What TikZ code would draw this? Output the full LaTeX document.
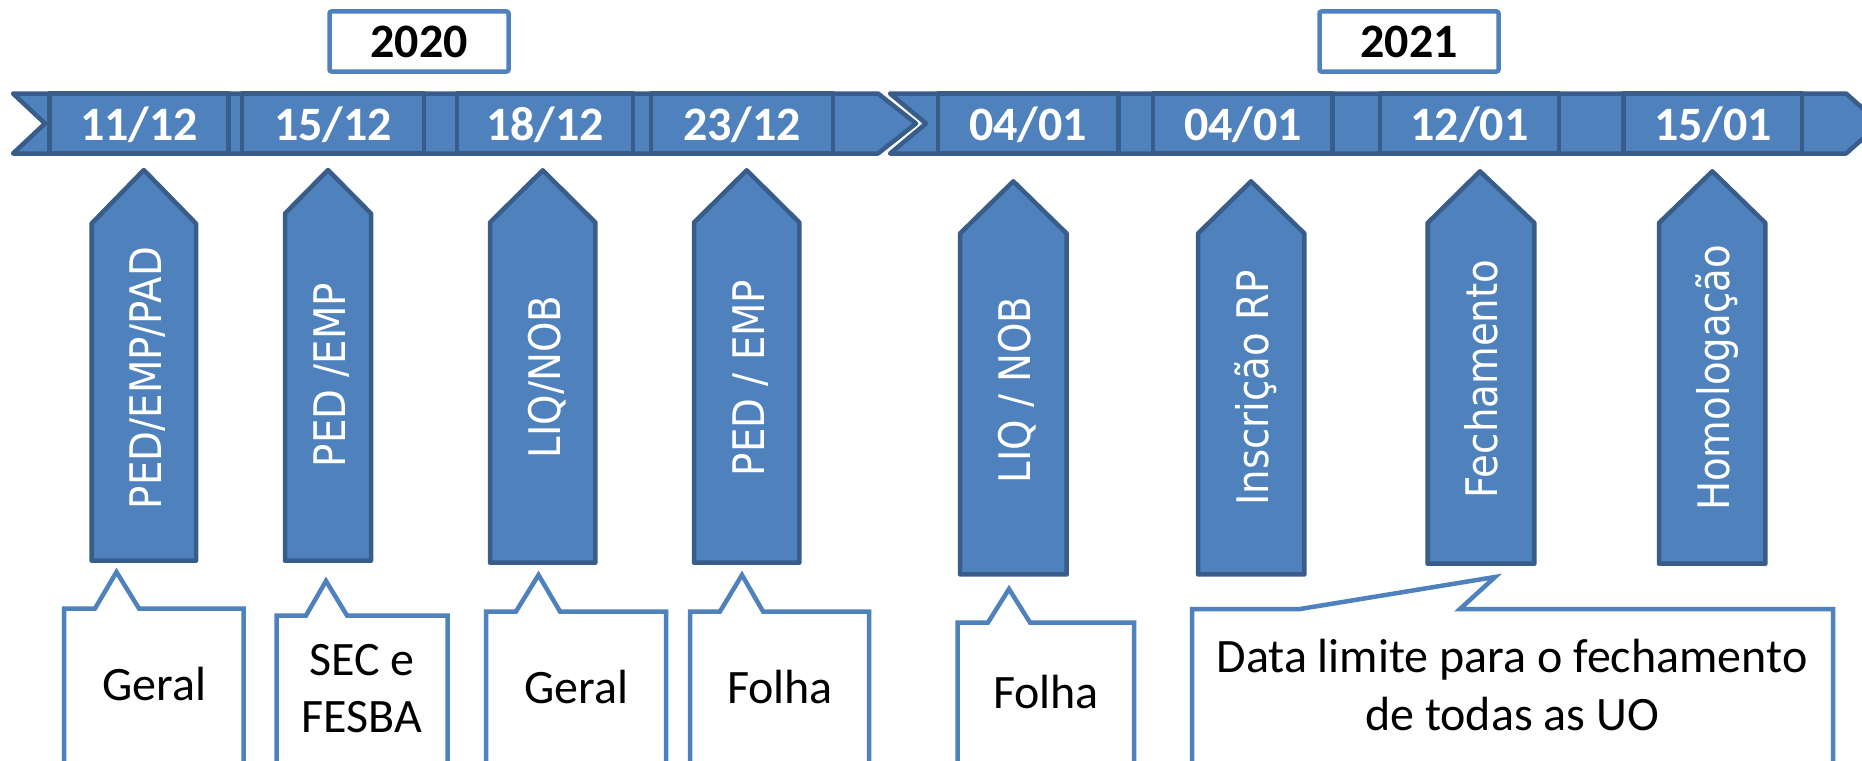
\documentclass[tikz,border=0pt]{standalone}
\usepackage{fontspec}
\setmainfont{Carlito}
\newfontfamily\vfont[FakeStretch=0.89]{DejaVu Sans}
\definecolor{fillblue}{HTML}{4F81BD}
\definecolor{darkblue}{HTML}{385D8A}
\begin{document}
\begin{tikzpicture}[x=1pt,y=-1pt,
  band/.style={fill=fillblue,draw=darkblue,line width=4.5pt,line join=round},
  datebox/.style={fill=fillblue,draw=darkblue,line width=4.5pt,line join=round},
  yearbox/.style={fill=white,draw=fillblue,line width=4.5pt,rounded corners=2pt},
  upshape/.style={fill=fillblue,draw=darkblue,line width=4.5pt,line join=round},
  callout/.style={fill=white,draw=fillblue,line width=4.5pt,line join=miter},
  datetext/.style={anchor=base,inner sep=0pt,text=white,font=\bfseries\fontsize{48}{56}\selectfont},
  yeartext/.style={anchor=base,inner sep=0pt,text=black,font=\bfseries\fontsize{48}{56}\selectfont},
  vtext/.style={anchor=base,inner sep=0pt,rotate=90,text=white,font=\vfont\fontsize{43.5}{50}\selectfont},
  ctext/.style={anchor=base,inner sep=0pt,text=black,font=\fontsize{48}{57}\selectfont}]
\useasboundingbox (0,0) rectangle (1862,760);
\clip (0,0) rectangle (1862,760);
\fill[white] (0,0) rectangle (1862,760);

% year boxes
\draw[yearbox] (329.5,11.5) rectangle (508.5,71.5);
\draw[yearbox] (1319.5,11.5) rectangle (1498.5,71.5);
\node[yeartext] (y2020) at (419,58) {2020};
\node[yeartext] (y2021) at (1409,58) {2021};

% timeline bands
\draw[band] (13,93.5) -- (45,123.5) -- (13,153.5) -- (878,153.5) -- (916,123.5) -- (878,93.5) -- cycle;
\draw[band] (890,93.5) -- (926,123.5) -- (890,153.5) -- (1846,153.5) -- (1880,123.5) -- (1846,93.5) -- cycle;

% date boxes
\draw[datebox] (49.7,93.5) rectangle (228.5,153.5);
\draw[datebox] (242,93.5) rectangle (424,153.5);
\draw[datebox] (457,93.5) rectangle (633,153.5);
\draw[datebox] (651,93.5) rectangle (833,153.5);
\draw[datebox] (938,93.5) rectangle (1118.5,153.5);
\draw[datebox] (1153,93.5) rectangle (1332.5,153.5);
\draw[datebox] (1380,93.5) rectangle (1559,153.5);
\draw[datebox] (1623.7,93.5) rectangle (1802,153.5);

\node[datetext] (d1) at (139,140) {11/12};
\node[datetext] (d2) at (333,140) {15/12};
\node[datetext] (d3) at (545,140) {18/12};
\node[datetext] (d4) at (742,140) {23/12};
\node[datetext] (d5) at (1028,140) {04/01};
\node[datetext] (d6) at (1243,140) {04/01};
\node[datetext] (d7) at (1469.5,140) {12/01};
\node[datetext] (d8) at (1713,140) {15/01};

% upward arrows
\draw[upshape] (91.6,560.7) -- (91.6,223.5) -- (143.8,170) -- (196,223.5) -- (196,560.7) -- cycle;
\draw[upshape] (285,560.7) -- (285,213.5) -- (328,170) -- (371,213.5) -- (371,560.7) -- cycle;
\draw[upshape] (490,562.7) -- (490,222.5) -- (542.7,170.3) -- (595.4,222.5) -- (595.4,562.7) -- cycle;
\draw[upshape] (694,562.7) -- (694,222.5) -- (746.7,170.3) -- (799.4,222.5) -- (799.4,562.7) -- cycle;
\draw[upshape] (960,574.4) -- (960,233.5) -- (1013.3,181.3) -- (1066.7,233.5) -- (1066.7,574.4) -- cycle;
\draw[upshape] (1198,574.4) -- (1198,233.5) -- (1251,181.3) -- (1304.4,233.5) -- (1304.4,574.4) -- cycle;
\draw[upshape] (1427.6,563.7) -- (1427.6,223) -- (1480,171.3) -- (1534.4,223) -- (1534.4,563.7) -- cycle;
\draw[upshape] (1659,563.7) -- (1659,223) -- (1712.3,171.3) -- (1765.4,223) -- (1765.4,563.7) -- cycle;

\node[vtext] (v1) at (161.1,378) {PED/EMP/PAD};
\node[vtext] (v2) at (345.3,375) {PED /EMP};
\node[vtext] (v3) at (560,377) {LIQ/NOB};
\node[vtext] (v4) at (764,378) {PED / EMP};
\node[vtext] (v5) at (1030.6,390) {LIQ / NOB};
\node[vtext] (v6) at (1268.3,388) {Inscrição RP};
\node[vtext] (v7) at (1497.5,379) {Fechamento};
\node[vtext] (v8) at (1729.6,378) {Homologação};

% callouts
\draw[callout] (64,795) -- (64,608.5) -- (95,608.5) -- (116.5,572) -- (139,608.5) -- (243.5,608.5) -- (243.5,795) -- cycle;
\draw[callout] (276.5,795) -- (276.5,615.5) -- (306,615.5) -- (326,581) -- (347,615.5) -- (447.5,615.5) -- (447.5,795) -- cycle;
\draw[callout] (486,795) -- (486,611.5) -- (516,611.5) -- (538.5,575) -- (560,611.5) -- (666,611.5) -- (666,795) -- cycle;
\draw[callout] (690,795) -- (690,611.5) -- (720,611.5) -- (742,575) -- (763,611.5) -- (869,611.5) -- (869,795) -- cycle;
\draw[callout] (957.5,795) -- (957.5,622.5) -- (988,622.5) -- (1009,589) -- (1030,622.5) -- (1134,622.5) -- (1134,795) -- cycle;
\draw[callout] (1192,795) -- (1192,609) -- (1300,609) -- (1495,577) -- (1460,609) -- (1833,609) -- (1833,795) -- cycle;

\node[ctext] (c1) at (154,700) {Geral};
\node[ctext] (c2a) at (362,675) {SEC e};
\node[ctext] (c2b) at (362,732) {FESBA};
\node[ctext] (c3) at (576,703) {Geral};
\node[ctext] (c4) at (780,703) {Folha};
\node[ctext] (c5) at (1046,708) {Folha};
\node[ctext] (c6a) at (1512,672) {Data limite para o fechamento};
\node[ctext] (c6b) at (1512,730) {de todas as UO};
\end{tikzpicture}
\end{document}
